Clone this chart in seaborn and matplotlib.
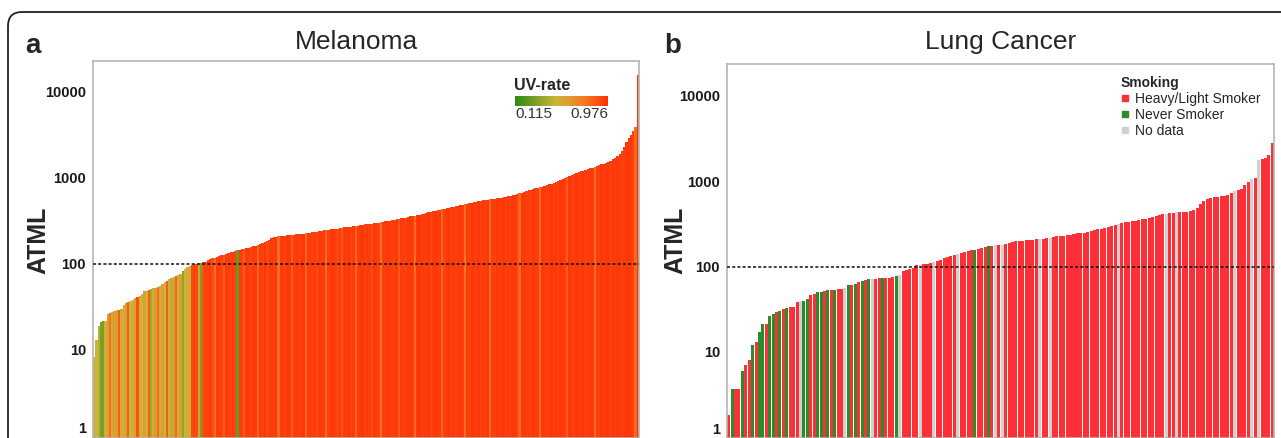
import numpy as np
import pandas as pd
import matplotlib
matplotlib.use('Agg')
import matplotlib.pyplot as plt
import seaborn as sns
from matplotlib.colors import LinearSegmentedColormap, Normalize
from matplotlib.patches import FancyBboxPatch
from matplotlib.lines import Line2D

# ---- data ----
# Melanoma: ATML per sample (sorted) and its UV-rate
mel_atml = [
    8.4, 13, 19, 21, 21.5, 22, 26, 27, 28, 28.5,
    29, 29.5, 30, 33, 35, 36, 37, 38, 40, 41,
    43, 45, 48, 49, 50, 51, 52, 53, 54, 55,
    58, 61, 64, 66, 68, 70, 72, 74, 76, 82,
    88, 92, 96, 98, 100, 101, 103, 104, 105, 106,
    110, 114, 116, 118, 121, 124, 126, 128, 131, 134,
    137, 139, 142, 144, 146, 148, 150, 152, 155, 158,
    160, 163, 166, 170, 175, 180, 185, 192, 200, 204,
    207, 209, 211, 213, 214, 215, 217, 218, 219, 221,
    222, 224, 225, 227, 229, 231, 233, 236, 238, 241,
    243, 246, 248, 250, 252, 254, 256, 258, 261, 263,
    266, 268, 270, 272, 275, 277, 280, 283, 285, 288,
    290, 292, 295, 297, 300, 303, 306, 309, 312, 316,
    320, 324, 328, 332, 336, 340, 343, 347, 352, 357,
    362, 366, 371, 376, 381, 386, 392, 398, 404, 410,
    416, 421, 427, 433, 440, 446, 452, 458, 464, 470,
    476, 482, 488, 494, 500, 507, 514, 521, 528, 535,
    542, 548, 553, 558, 563, 568, 574, 580, 586, 592,
    598, 605, 612, 620, 630, 640, 652, 664, 676, 690,
    705, 718, 730, 742, 755, 768, 780, 792, 805, 820,
    840, 860, 880, 905, 930, 955, 980, 1000, 1025, 1050,
    1080, 1110, 1140, 1165, 1190, 1215, 1240, 1265, 1290, 1320,
    1350, 1380, 1410, 1440, 1470, 1500, 1540, 1580, 1640, 1700,
    1780, 1900, 2050, 2300, 2600, 2900, 3200, 3500, 3900, 15700,
]
mel_uv = [
    0.55, 0.50, 0.45, 0.30, 0.30, 0.55, 0.60, 0.80, 0.55, 0.60,
    0.60, 0.85, 0.55, 0.55, 0.60, 0.85, 0.50, 0.55, 0.60, 0.88,
    0.55, 0.50, 0.60, 0.55, 0.85, 0.40, 0.55, 0.60, 0.80, 0.55,
    0.60, 0.50, 0.85, 0.55, 0.45, 0.60, 0.82, 0.55, 0.60, 0.35,
    0.50, 0.55, 0.55, 0.90, 0.93, 0.90, 0.60, 0.30, 0.88, 0.93,
    0.92, 0.95, 0.90, 0.80, 0.94, 0.95, 0.93, 0.85, 0.95, 0.94,
    0.93, 0.95, 0.92, 0.25, 0.95, 0.93, 0.85, 0.95, 0.94, 0.92,
    0.95, 0.94, 0.82, 0.95, 0.93, 0.96, 0.90, 0.94, 0.95, 0.93,
    0.95, 0.80, 0.94, 0.95, 0.92, 0.96, 0.95, 0.85, 0.94, 0.95,
    0.93, 0.95, 0.96, 0.82, 0.94, 0.95, 0.93, 0.95, 0.90, 0.96,
    0.94, 0.95, 0.80, 0.93, 0.95, 0.96, 0.94, 0.92, 0.95, 0.86,
    0.95, 0.94, 0.96, 0.93, 0.95, 0.82, 0.94, 0.95, 0.96, 0.93,
    0.95, 0.94, 0.90, 0.96, 0.95, 0.93, 0.78, 0.95, 0.94, 0.96,
    0.95, 0.93, 0.94, 0.96, 0.85, 0.95, 0.94, 0.93, 0.96, 0.95,
    0.94, 0.80, 0.95, 0.96, 0.93, 0.95, 0.94, 0.96, 0.92, 0.95,
    0.96, 0.94, 0.95, 0.82, 0.93, 0.95, 0.96, 0.94, 0.95, 0.93,
    0.95, 0.96, 0.94, 0.78, 0.95, 0.93, 0.96, 0.95, 0.94, 0.96,
    0.93, 0.95, 0.94, 0.96, 0.80, 0.95, 0.93, 0.96, 0.94, 0.95,
    0.96, 0.93, 0.95, 0.94, 0.96, 0.95, 0.93, 0.82, 0.95, 0.96,
    0.94, 0.95, 0.93, 0.96, 0.95, 0.94, 0.80, 0.96, 0.95, 0.93,
    0.95, 0.96, 0.94, 0.95, 0.93, 0.96, 0.95, 0.94, 0.85, 0.96,
    0.95, 0.93, 0.96, 0.94, 0.95, 0.96, 0.93, 0.95, 0.94, 0.96,
    0.80, 0.95, 0.93, 0.96, 0.94, 0.95, 0.96, 0.93, 0.95, 0.94,
    0.96, 0.95, 0.93, 0.94, 0.96, 0.95, 0.95, 0.93, 0.80, 0.97,
]
uv_range = [0.115, 0.976]

# Lung cancer: ATML per sample (sorted) and smoking status code
lung_atml = [
    1.8, 3.7, 3.7, 3.7, 6, 7, 8, 12, 13, 17,
    21, 21, 26, 28, 29, 30, 32, 33, 34, 34,
    38, 40, 40, 42, 46, 48, 50, 51, 52, 53,
    53, 53, 54, 54, 56, 60, 61, 63, 66, 68,
    70, 71, 72, 72, 73, 73, 74, 74, 75, 77,
    80, 88, 90, 93, 97, 103, 104, 106, 108, 110,
    113, 117, 120, 125, 128, 133, 137, 140, 145, 150,
    152, 155, 158, 160, 163, 168, 172, 175, 177, 178,
    178, 185, 190, 195, 197, 198, 200, 202, 205, 207,
    210, 210, 212, 215, 218, 222, 225, 228, 230, 232,
    236, 240, 245, 248, 250, 255, 260, 265, 272, 278,
    285, 292, 298, 305, 312, 320, 330, 335, 340, 345,
    350, 358, 365, 372, 380, 390, 400, 410, 415, 420,
    425, 430, 432, 435, 440, 450, 465, 490, 540, 590,
    620, 640, 655, 660, 665, 670, 680, 720, 770, 790,
    820, 900, 980, 1050, 1100, 1750, 1800, 1850, 2000, 2800,
]
lung_codes = ("HNHHNHHNHN" "NHNNHNHNHH" "HXNNHHNNHN" "HNHHXNHNHN"
              "HNXHHNHHHN" "XHHHHHXHHH" "XHHHHHHXHH" "HHNHHHNHXH"
              "XHHHHHHHHH" "HXHHXHHHHH" "HHHHHHHHHH" "HHHHXHHHHH"
              "HHHHHHHHXH" "HXHHHHHHHH" "HHHHHHHHXH" "HHHXHXHHHH")
smoking_names = {'H': 'Heavy/Light Smoker', 'N': 'Never Smoker', 'X': 'No data'}
smoking_colors = {'Heavy/Light Smoker': '#fc3036', 'Never Smoker': '#2b8c2b', 'No data': '#d0d0d0'}

y_ticks = [1, 10, 100, 1000, 10000]

# ---- figure setup ----
W, H = 1281, 438
sns.set_style('white')
plt.rcParams['font.family'] = ['Liberation Sans', 'DejaVu Sans']
fig = plt.figure(figsize=(W / 100, H / 100), dpi=100)

# rounded outer frame
bg = fig.add_axes([0, 0, 1, 1])
bg.set_xlim(0, W)
bg.set_ylim(H, 0)
bg.axis('off')
bg.add_patch(FancyBboxPatch((8, 12), 1400, 500, boxstyle='round,pad=0,rounding_size=14',
                            fill=False, ec='#222222', lw=1.3))


def px_axes(left, top, right, bottom):
    return fig.add_axes([left / W, 1 - bottom / H, (right - left) / W, (bottom - top) / H])


def style_axes(ax, ylim):
    ax.set_yscale('log')
    ax.set_ylim(*ylim)
    ax.set_yticks(y_ticks, labels=[str(t) for t in y_ticks])
    ax.minorticks_off()
    ax.set_xticks([])
    ax.set_xlabel('')
    ax.set_ylabel('')
    ax.tick_params(axis='y', length=0, pad=5, labelsize=10.5, labelcolor='#1a1a1a')
    for lab in ax.get_yticklabels():
        lab.set_fontweight('bold')
        if lab.get_text() == '1':
            lab.set_verticalalignment('bottom')
    for sp in ax.spines.values():
        sp.set_color('#b5b5b5')
        sp.set_linewidth(1.2)
    ax.axhline(100, color='#111111', ls=(0, (2, 1.4)), lw=1.1, zorder=5)


# ---- panel a: melanoma ----
cmap = LinearSegmentedColormap.from_list(
    'uv', [(0, '#2e8b14'), (0.45, '#cbb63a'), (0.75, '#f47a22'), (1, '#ff3208')])
norm = Normalize(*uv_range)

mel_df = pd.DataFrame({'sample': [f'M{i:03d}' for i in range(len(mel_atml))],
                       'ATML': mel_atml, 'uv': mel_uv})
mel_pal = {s: cmap(norm(u)) for s, u in zip(mel_df['sample'], mel_df['uv'])}

ax_a = px_axes(93, 61, 639, 438)
sns.barplot(data=mel_df, x='sample', y='ATML', hue='sample', palette=mel_pal,
            width=1.0, saturation=1, linewidth=0, errorbar=None, legend=False, ax=ax_a)
ax_a.set_xlim(-0.5, len(mel_atml) - 0.5)
style_axes(ax_a, (0.948, 22900))

# colour key for UV-rate
fig.text(514 / W, 1 - 85 / H, 'UV-rate', fontsize=11.5, fontweight='bold', va='center', ha='left')
cax = px_axes(515, 96, 608, 106)
cax.imshow(np.linspace(0, 1, 256)[None, :], aspect='auto', cmap=cmap)
cax.set_axis_off()
fig.text(515 / W, 1 - 114 / H, f'{uv_range[0]:.3f}', fontsize=11, color='#333333', va='center', ha='left')
fig.text(608 / W, 1 - 114 / H, f'{uv_range[1]:.3f}', fontsize=11, color='#333333', va='center', ha='right')

# ---- panel b: lung cancer ----
lung_df = pd.DataFrame({'sample': [f'L{i:03d}' for i in range(len(lung_atml))],
                        'ATML': lung_atml,
                        'Smoking': [smoking_names[c] for c in lung_codes]})

ax_b = px_axes(727, 64, 1274, 438)
sns.barplot(data=lung_df, x='sample', y='ATML', hue='Smoking', palette=smoking_colors,
            dodge=False, width=0.88, saturation=1, linewidth=0, errorbar=None,
            legend=False, ax=ax_b)
ax_b.set_xlim(-0.5, len(lung_atml) - 0.5)
style_axes(ax_b, (0.98, 23600))

handles = [Line2D([], [], marker='s', ls='', markersize=5, color=smoking_colors[k], label=k)
           for k in smoking_colors]
leg = ax_b.legend(handles=handles, title='Smoking', loc='upper left',
                  bbox_to_anchor=(1114 / W, 1 - 69 / H), bbox_transform=fig.transFigure,
                  frameon=False, fontsize=10, title_fontsize=10, alignment='left',
                  handlelength=0.6, handletextpad=0.4, labelspacing=0.15, borderpad=0)
leg.get_title().set_fontweight('bold')

# titles, panel letters and y labels
for x, title in [(357, 'Melanoma'), (1001, 'Lung Cancer')]:
    fig.text(x / W, 1 - 42 / H, title, fontsize=19, va='center', ha='center')
for x, letter in [(33, 'a'), (673, 'b')]:
    fig.text(x / W, 1 - 46 / H, letter, fontsize=20, fontweight='bold', va='center', ha='center')
for x in [38, 675]:
    fig.text(x / W, 1 - 240 / H, 'ATML', fontsize=18, fontweight='bold', rotation=90,
             va='center', ha='center')

fig.savefig('out.png', dpi=100)
